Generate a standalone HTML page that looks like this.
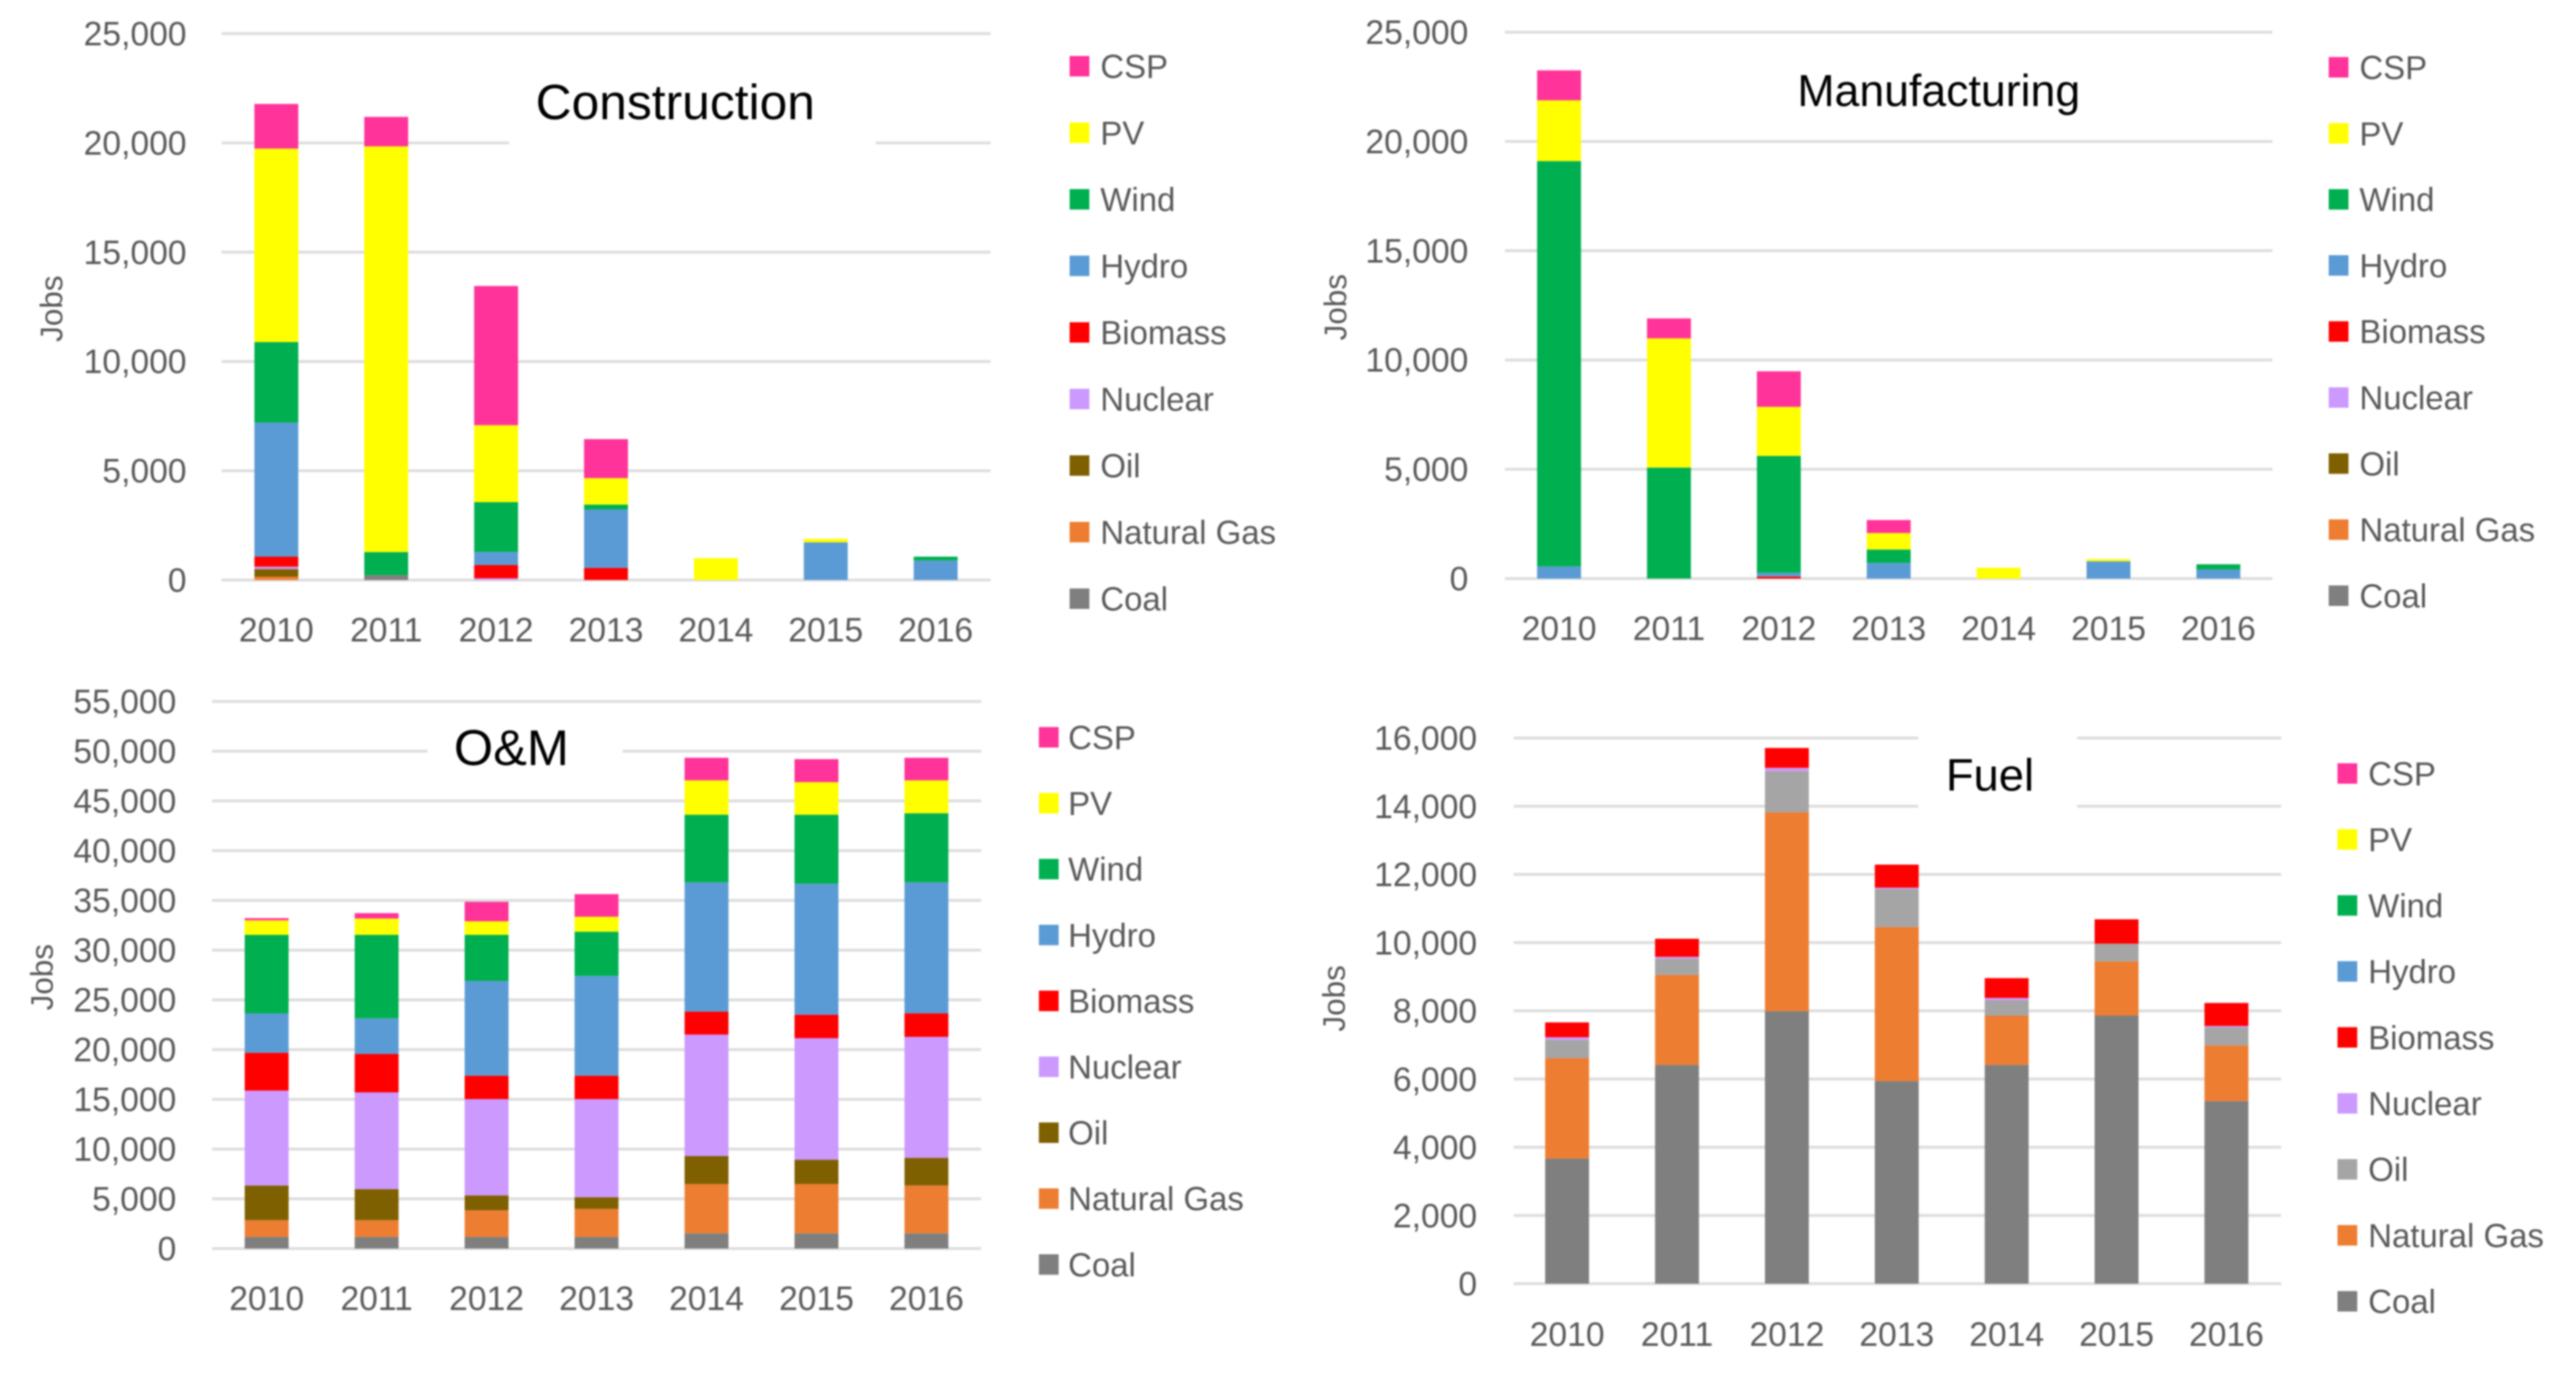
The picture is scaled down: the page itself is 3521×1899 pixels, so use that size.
<!DOCTYPE html>
<html lang="en">
<head>
<meta charset="utf-8">
<title>Jobs by energy source and activity, 2010-2016</title>
<style>
html,body{margin:0;padding:0;background:#fff;}
#figure{display:block;width:3521px;height:1899px;filter:blur(1px);font-family:"Liberation Sans",sans-serif;}
text{font-family:"Liberation Sans",sans-serif;}
</style>
</head>
<body>
<svg id="figure" xmlns="http://www.w3.org/2000/svg" width="3521" height="1899" viewBox="0 0 3521 1899"></svg>
<script>
// Shared categories and series
const years = ['2010','2011','2012','2013','2014','2015','2016'];
const seriesNames = ['Coal','Natural Gas','Oil','Nuclear','Biomass','Hydro','Wind','PV','CSP'];

// Construction
const constructionTicks = [0,5000,10000,15000,20000,25000];
const constructionCoal = [0,222,0,0,0,0,0];
const constructionGas = [150,0,0,0,0,0,0];
const constructionOil = [350,0,0,0,0,0,0];
const constructionNuclear = [110,0,80,0,0,0,0];
const constructionBiomass = [460,0,610,557,0,0,0];
const constructionHydro = [6130,0,590,2673,0,1726,893];
const constructionWind = [3690,1060,2285,223,0,0,178];
const constructionPV = [8850,18559,3520,1209,1000,159,0];
const constructionCSP = [2044,1350,6370,1786,0,0,0];

// Manufacturing
const manufacturingTicks = [0,5000,10000,15000,20000,25000];
const manufacturingCoal = [0,0,0,0,0,0,0];
const manufacturingGas = [0,0,0,0,0,0,0];
const manufacturingOil = [0,0,0,0,0,0,0];
const manufacturingNuclear = [0,0,0,0,0,0,0];
const manufacturingBiomass = [0,0,90,0,0,0,0];
const manufacturingHydro = [555,0,170,714,0,794,417];
const manufacturingWind = [18550,5079,5355,615,0,0,238];
const manufacturingPV = [2777,5912,2242,754,496,99,0];
const manufacturingCSP = [1370,913,1627,595,0,0,0];

// O&M
const omTicks = [0,5000,10000,15000,20000,25000,30000,35000,40000,45000,50000,55000];
const omCoal = [1170,1170,1170,1170,1530,1530,1530];
const omGas = [1680,1680,2680,2815,4950,4950,4815];
const omOil = [3495,3130,1500,1180,2820,2450,2770];
const omNuclear = [9535,9720,9670,9855,12210,12220,12165];
const omBiomass = [3810,3860,2360,2360,2310,2360,2360];
const omHydro = [3950,3580,9530,10030,12990,13160,13170];
const omWind = [7900,8400,4630,4450,6810,6950,6950];
const omPV = [1455,1640,1365,1500,3450,3270,3310];
const omCSP = [225,540,1955,2270,2270,2310,2270];

// Fuel
const fuelTicks = [0,2000,4000,6000,8000,10000,12000,14000,16000];
const fuelCoal = [3672,6416,7993,5939,6416,7861,5356];
const fuelGas = [2943,2638,5833,4520,1445,1590,1630];
const fuelOil = [530,477,1206,1113,450,518,530];
const fuelNuclear = [80,53,93,40,67,0,40];
const fuelBiomass = [437,530,583,676,583,715,676];
const fuelHydro = [0,0,0,0,0,0,0];
const fuelWind = [0,0,0,0,0,0,0];
const fuelPV = [0,0,0,0,0,0,0];
const fuelCSP = [0,0,0,0,0,0,0];

// Colours (styling, bottom of stack first)
const seriesColours = ['#7F7F7F','#ED7D31','#7F6000','#CC99FF','#FF0000','#5B9BD5','#00B050','#FFFF00','#FF3399'];
const fuelColours = ['#7F7F7F','#ED7D31','#A5A5A5','#CC99FF','#FF0000','#5B9BD5','#00B050','#FFFF00','#FF3399'];

const panels = [
  { key:'construction', title:'Construction', titleX:923, titleY:163, titleSize:68,
    mask:[696,100,501,115], ticks:constructionTicks, max:25000,
    series:[constructionCoal,constructionGas,constructionOil,constructionNuclear,constructionBiomass,constructionHydro,constructionWind,constructionPV,constructionCSP],
    colours:seriesColours, left:303, right:1354, firstCenter:377.7, band:150.2, top:46, bottom:793, tickRight:255, xLabelY:877,
    jobsX:85, jobsY:422, swatchX:1462, labelX:1504, legendTop:90.5, legendStep:91 },
  { key:'manufacturing', title:'Manufacturing', titleX:2650, titleY:145, titleSize:61,
    mask:null, ticks:manufacturingTicks, max:25000,
    series:[manufacturingCoal,manufacturingGas,manufacturingOil,manufacturingNuclear,manufacturingBiomass,manufacturingHydro,manufacturingWind,manufacturingPV,manufacturingCSP],
    colours:seriesColours, left:2057, right:3106, firstCenter:2131, band:150.2, top:44, bottom:791, tickRight:2007, xLabelY:875,
    jobsX:1840, jobsY:420, swatchX:3183, labelX:3225, legendTop:92, legendStep:90.3 },
  { key:'om', title:'O&M', titleX:699, titleY:1046, titleSize:69,
    mask:[584,962,267,123], ticks:omTicks, max:55000,
    series:[omCoal,omGas,omOil,omNuclear,omBiomass,omHydro,omWind,omPV,omCSP],
    colours:seriesColours, left:290, right:1341, firstCenter:364.5, band:150.3, top:959, bottom:1707, tickRight:241, xLabelY:1791,
    jobsX:72, jobsY:1336, swatchX:1420, labelX:1460, legendTop:1008, legendStep:90.1 },
  { key:'fuel', title:'Fuel', titleX:2720, titleY:1081, titleSize:62,
    mask:[2622,990,217,140], ticks:fuelTicks, max:16000,
    series:[fuelCoal,fuelGas,fuelOil,fuelNuclear,fuelBiomass,fuelHydro,fuelWind,fuelPV,fuelCSP],
    colours:fuelColours, left:2069, right:3118, firstCenter:2142, band:150.2, top:1009, bottom:1755, tickRight:2019, xLabelY:1840,
    jobsX:1838, jobsY:1365, swatchX:3195, labelX:3237, legendTop:1057.5, legendStep:90.2 }
];

const svg = document.getElementById('figure');
const NS = 'http://www.w3.org/2000/svg';
const slug = s => s.toLowerCase().replace(/[^a-z0-9]+/g,'-');

function make(tag, attrs, parent, content) {
  const node = document.createElementNS(NS, tag);
  for (const k in attrs) node.setAttribute(k, attrs[k]);
  if (content !== undefined) node.textContent = content;
  parent.appendChild(node);
  return node;
}

panels.forEach(p => {
  const yScale = v => p.bottom - (v / p.max) * (p.bottom - p.top);
  const xCenter = i => p.firstCenter + p.band * i;
  const barWidth = 60;

  const group = make('g', {}, svg);
  
  

  // Gridlines and y tick labels
  p.ticks.forEach(t => {
    const line = make('line', {x1:p.left, x2:p.right, y1:yScale(t), y2:yScale(t), stroke:'#DEDEDE', 'stroke-width':4}, group);
    
    
    const label = make('text', {x:p.tickRight, y:yScale(t)+16, 'text-anchor':'end', 'font-size':46, fill:'#595959'}, group, t.toLocaleString('en-US'));
    
    
  });

  // White box behind the title that interrupts gridlines
  if (p.mask) {
    const mask = make('rect', {x:p.mask[0], y:p.mask[1], width:p.mask[2], height:p.mask[3], fill:'#FFFFFF'}, group);
    
    
  }

  // Stacked bars
  years.forEach((year, i) => {
    let running = 0;
    p.series.forEach((values, s) => {
      const value = values[i];
      if (value > 0) {
        const y0 = yScale(running);
        const y1 = yScale(running + value);
        const bar = make('rect', {x:xCenter(i)-barWidth/2, y:y1, width:barWidth, height:y0-y1, fill:p.colours[s]}, group);
        
        
      }
      running += value;
    });
    const xLabel = make('text', {x:xCenter(i), y:p.xLabelY, 'text-anchor':'middle', 'font-size':46, fill:'#595959'}, group, year);
    
    
  });

  // Axis title
  const jobs = make('text', {x:0, y:0, transform:'translate(' + p.jobsX + ' ' + p.jobsY + ') rotate(-90)', 'text-anchor':'middle', 'font-size':43, fill:'#595959'}, group, 'Jobs');
  
  

  // Chart title
  const title = make('text', {x:p.titleX, y:p.titleY, 'text-anchor':'middle', 'font-size':p.titleSize, fill:'#000000'}, group, p.title);
  
  

  // Legend: top entry is the last series
  const count = seriesNames.length;
  seriesNames.forEach((name, s) => {
    const row = count - 1 - s;
    const cy = p.legendTop + row * p.legendStep;
    const swatch = make('rect', {x:p.swatchX, y:cy-14, width:27, height:28, fill:p.colours[s]}, group);
    
    
    const text = make('text', {x:p.labelX, y:cy+16, 'font-size':45, fill:'#595959'}, group, name);
    
    
  });
});
</script>
</body>
</html>
